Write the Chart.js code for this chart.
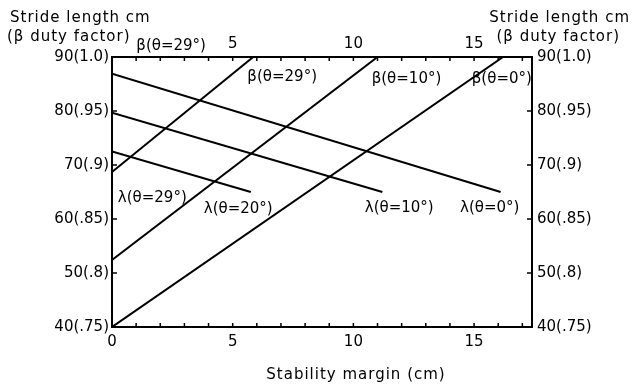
<!DOCTYPE html>
<html>
<head>
<meta charset="utf-8">
<script src="https://cdn.jsdelivr.net/npm/chart.js@4/dist/chart.umd.min.js"></script>
<style>
  html, body { margin: 0; padding: 0; background: #fff; }
  #chart { display: block; }
</style>
</head>
<body>
<canvas id="chart" width="633" height="386"></canvas>
<script>
// Stability margin (cm) range and ticks
const xMin = 0;
const xMax = 17.4;
const bottomTicks = [0, 5, 10, 15];
const topTicks = [5, 10, 15];
const minorTicks = [1, 2, 3, 4, 5, 6, 7, 8, 9, 10, 11, 12, 13, 14, 15, 16, 17];

// Stride length cm (beta duty factor)
const yTicks = [40, 50, 60, 70, 80, 90];
const yTickLabels = ['40(.75)', '50(.8)', '60(.85)', '70(.9)', '80(.95)', '90(1.0)'];

// beta lines (rising)
const betaTheta0 = [{ x: 0, y: 40 }, { x: 16.2, y: 90 }];
const betaTheta10 = [{ x: 0, y: 52.4 }, { x: 11.0, y: 90 }];
const betaTheta20 = [{ x: 0, y: 68.7 }, { x: 5.85, y: 90 }];

// lambda lines (falling)
const lambdaTheta0 = [{ x: 0, y: 86.9 }, { x: 16.1, y: 65 }];
const lambdaTheta10 = [{ x: 0, y: 79.7 }, { x: 11.2, y: 65 }];
const lambdaTheta20 = [{ x: 0, y: 72.5 }, { x: 5.75, y: 65 }];

// curve labels, in data coordinates
const curveLabels = [
    { text: 'β(θ=29°)', x: 2.45, y: 92.0 },
    { text: 'β(θ=29°)', x: 7.05, y: 86.3 },
    { text: 'β(θ=10°)', x: 12.2, y: 85.9 },
    { text: 'β(θ=0°)', x: 16.15, y: 85.9 },
    { text: 'λ(θ=29°)', x: 1.67, y: 63.9 },
    { text: 'λ(θ=20°)', x: 5.23, y: 61.9 },
    { text: 'λ(θ=10°)', x: 11.9, y: 62.0 },
    { text: 'λ(θ=0°)', x: 15.65, y: 62.0 }
];

const FONT = 'DejaVu Sans';

function lineSet(data) {
    return {
        data: data,
        showLine: true,
        borderColor: '#000',
        borderWidth: 2,
        pointRadius: 0,
        fill: false
    };
}

// Inward ticks, curve labels and axis titles
const decorPlugin = {
    id: 'decor',
    afterDraw(chart) {
        const ctx = chart.ctx;
        const a = chart.chartArea;
        const xs = chart.scales.x;
        const ys = chart.scales.y;
        ctx.save();
        ctx.strokeStyle = '#000';
        ctx.lineWidth = 1.5;
        ctx.beginPath();
        minorTicks.forEach(v => {
            const px = xs.getPixelForValue(v);
            ctx.moveTo(px, a.bottom);
            ctx.lineTo(px, a.bottom - 4);
            ctx.moveTo(px, a.top);
            ctx.lineTo(px, a.top + 4);
        });
        yTicks.slice(1, -1).forEach(v => {
            const py = ys.getPixelForValue(v);
            ctx.moveTo(a.left, py);
            ctx.lineTo(a.left + 5, py);
            ctx.moveTo(a.right, py);
            ctx.lineTo(a.right - 5, py);
        });
        ctx.stroke();

        ctx.fillStyle = '#000';
        ctx.textBaseline = 'middle';
        ctx.font = '15px "' + FONT + '"';
        ctx.textAlign = 'center';
        curveLabels.forEach(l => {
            ctx.fillText(l.text, xs.getPixelForValue(l.x), ys.getPixelForValue(l.y));
        });

        ctx.letterSpacing = '1px';
        ctx.textAlign = 'left';
        ctx.fillText('Stride length cm', 10, 18);
        ctx.fillText('(β duty factor)', 7, 37);
        ctx.textAlign = 'right';
        ctx.fillText('Stride length cm', 630, 18);
        ctx.fillText('(β duty factor)', 620, 37);
        ctx.textAlign = 'center';
        ctx.fillText('Stability margin (cm)', (a.left + a.right) / 2 + 34, 375);
        ctx.restore();
    }
};

const tickFont = { family: FONT, size: 15 };

new Chart(document.getElementById('chart'), {
    type: 'scatter',
    data: {
        datasets: [
            lineSet(betaTheta0),
            lineSet(betaTheta10),
            lineSet(betaTheta20),
            lineSet(lambdaTheta0),
            lineSet(lambdaTheta10),
            lineSet(lambdaTheta20)
        ]
    },
    options: {
        responsive: false,
        animation: false,
        devicePixelRatio: 1,
        layout: { padding: 0 },
        plugins: {
            legend: { display: false },
            tooltip: { enabled: false }
        },
        scales: {
            x: {
                type: 'linear',
                position: 'bottom',
                min: xMin,
                max: xMax,
                afterBuildTicks: s => { s.ticks = bottomTicks.map(v => ({ value: v })); },
                afterFit: s => { s.height = 59; },
                ticks: { color: '#000', font: tickFont, padding: 6, maxRotation: 0 },
                grid: { display: false, drawTicks: false },
                border: { display: true, color: '#000', width: 2 }
            },
            x2: {
                type: 'linear',
                axis: 'x',
                position: 'top',
                min: xMin,
                max: xMax,
                afterBuildTicks: s => { s.ticks = topTicks.map(v => ({ value: v })); },
                afterFit: s => { s.height = 57; },
                ticks: { color: '#000', font: tickFont, padding: 4, maxRotation: 0 },
                grid: { display: false, drawTicks: false },
                border: { display: true, color: '#000', width: 2 }
            },
            y: {
                type: 'linear',
                position: 'left',
                min: 40,
                max: 90,
                afterBuildTicks: s => { s.ticks = yTicks.map(v => ({ value: v })); },
                afterFit: s => { s.width = 112; },
                ticks: {
                    color: '#000',
                    font: tickFont,
                    padding: 3,
                    callback: v => yTickLabels[yTicks.indexOf(v)]
                },
                grid: { display: false, drawTicks: false },
                border: { display: true, color: '#000', width: 2 }
            },
            y2: {
                type: 'linear',
                axis: 'y',
                position: 'right',
                min: 40,
                max: 90,
                afterBuildTicks: s => { s.ticks = yTicks.map(v => ({ value: v })); },
                afterFit: s => { s.width = 101; },
                ticks: {
                    color: '#000',
                    font: tickFont,
                    padding: 5,
                    callback: v => yTickLabels[yTicks.indexOf(v)]
                },
                grid: { display: false, drawTicks: false },
                border: { display: true, color: '#000', width: 2 }
            }
        }
    },
    plugins: [decorPlugin]
});
</script>
</body>
</html>
